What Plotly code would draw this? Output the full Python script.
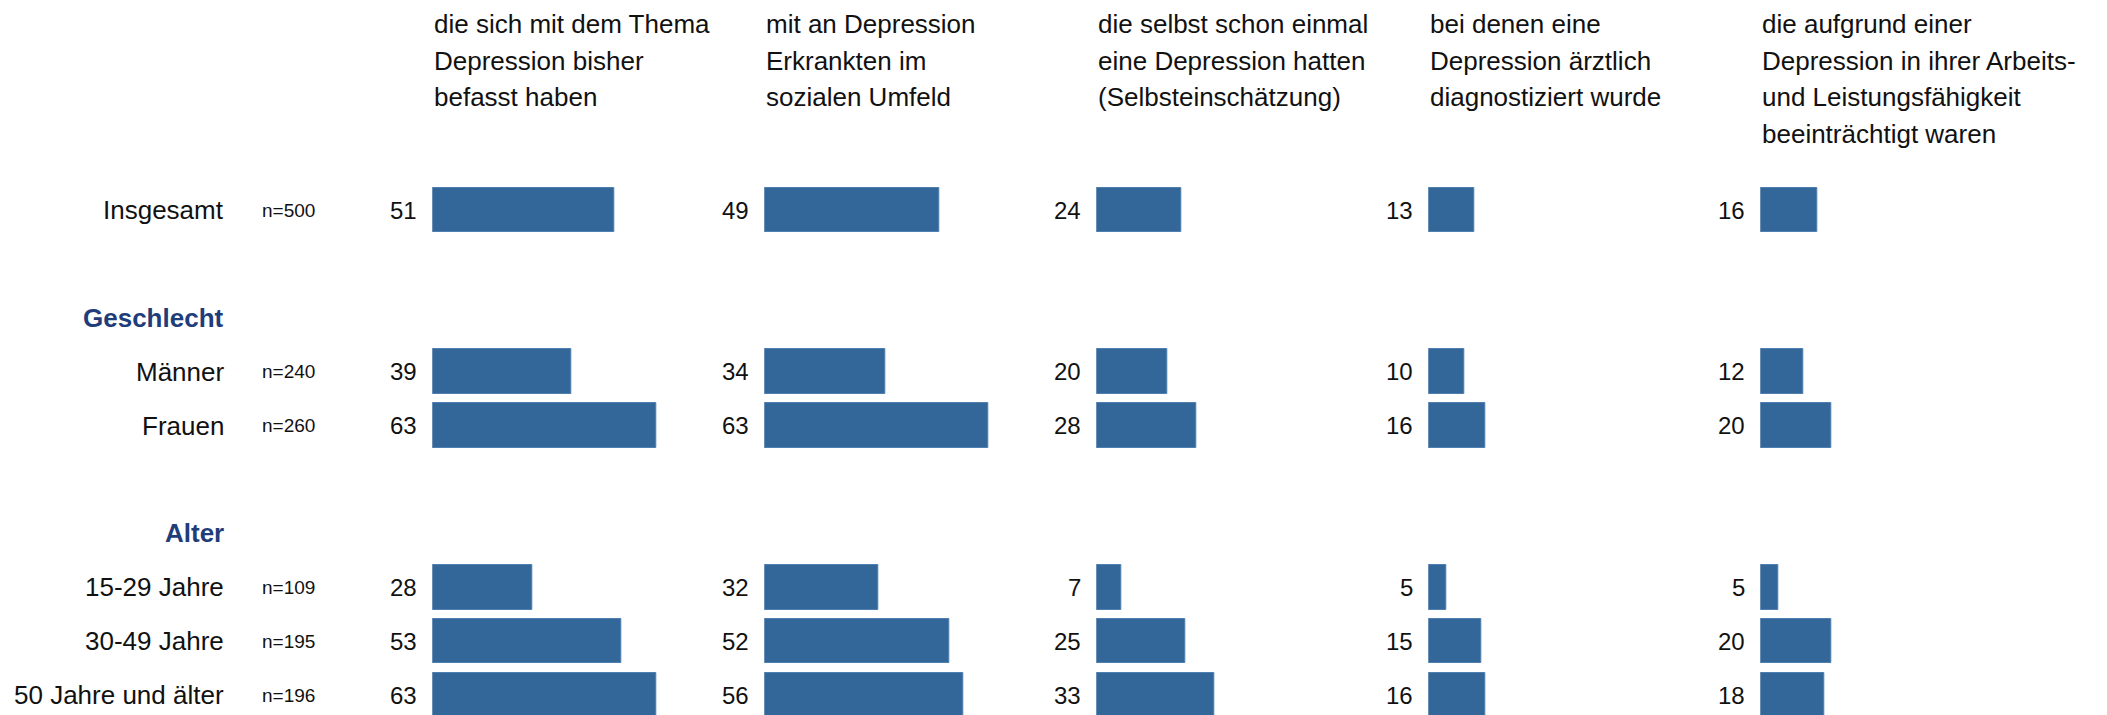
import plotly.graph_objects as go

# ---------------- data ----------------
categories = ["Insgesamt", "Männer", "Frauen", "15-29 Jahre", "30-49 Jahre", "50 Jahre und älter"]
sample_sizes = ["n=500", "n=240", "n=260", "n=109", "n=195", "n=196"]
group_of = ["", "Geschlecht", "Geschlecht", "Alter", "Alter", "Alter"]

col_befasst = [51, 39, 63, 28, 53, 63]
col_umfeld = [49, 34, 63, 32, 52, 56]
col_selbst = [24, 20, 28, 7, 25, 33]
col_diagnose = [13, 10, 16, 5, 15, 16]
col_arbeit = [16, 12, 20, 5, 20, 18]

headers = [
    ["die sich mit dem Thema", "Depression bisher", "befasst haben"],
    ["mit an Depression", "Erkrankten im", "sozialen Umfeld"],
    ["die selbst schon einmal", "eine Depression hatten", "(Selbsteinschätzung)"],
    ["bei denen eine", "Depression ärztlich", "diagnostiziert wurde"],
    ["die aufgrund einer", "Depression in ihrer Arbeits-", "und Leistungsfähigkeit", "beeinträchtigt waren"],
]
columns = [col_befasst, col_umfeld, col_selbst, col_diagnose, col_arbeit]

# ---------------- layout geometry ----------------
PAGE_OFF = 8  # default body margin of the html page
W, H = 2107 - PAGE_OFF, 715 - PAGE_OFF
BAR_COLOR = "#336699"
GROUP_COLOR = "#1F3D7A"
FONT = "Arial, Liberation Sans, sans-serif"

# row positions: a blank row before each new group, then the group header row
row_pos = []
group_rows = []
pos = 0
prev_group = None
for g in group_of:
    if g != prev_group and g != "":
        pos += 1  # blank spacer
        group_rows.append((g, pos))
        pos += 1
    row_pos.append(pos)
    pos += 1
    prev_group = g

row_px = 53.9
y0_px = 210.0 - PAGE_OFF
y_top = -y0_px / row_px
y_bot = (H - y0_px) / row_px

px_per_unit = 3.562
col_left0 = 432.3 - PAGE_OFF
col_step = 332.0
col_width = 320.0

fig = go.Figure()
annotations = []

for k, vals in enumerate(columns):
    axname = "x" if k == 0 else f"x{k+1}"
    left = col_left0 + col_step * k
    fig.add_trace(go.Bar(
        x=vals, y=row_pos, orientation="h",
        xaxis=axname, yaxis="y",
        marker=dict(color=BAR_COLOR, line=dict(color="#4f7fae", width=1)),
        width=0.824, hoverinfo="skip", showlegend=False,
    ))
    lay_key = "xaxis" if k == 0 else f"xaxis{k+1}"
    fig.layout[lay_key] = dict(
        domain=[left / W, (left + col_width) / W],
        range=[0, col_width / px_per_unit],
        anchor="y", visible=False, fixedrange=True,
    )
    for v, yp in zip(vals, row_pos):
        annotations.append(dict(
            x=0, y=yp, xref=axname, yref="y", text=str(v), showarrow=False,
            xanchor="right", yanchor="middle", xshift=-13,
            font=dict(family=FONT, size=24, color="#111111"),
        ))
    # header lines
    for i, line in enumerate(headers[k]):
        center_px = 24.5 + 36.4 * i - PAGE_OFF
        annotations.append(dict(
            x=left / W, y=1 - center_px / H, xref="paper", yref="paper",
            text=line, showarrow=False, xanchor="left", yanchor="middle",
            font=dict(family=FONT, size=26, color="#111111"),
        ))

label_right = (226 - PAGE_OFF) / W
n_left = (260 - PAGE_OFF) / W

# row labels and sample sizes
for cat, n, yp in zip(categories, sample_sizes, row_pos):
    annotations.append(dict(
        x=label_right, y=yp, xref="paper", yref="y", text=cat, showarrow=False,
        xanchor="right", yanchor="middle",
        font=dict(family=FONT, size=26, color="#111111"),
    ))
    annotations.append(dict(
        x=n_left, y=yp, xref="paper", yref="y", text=n, showarrow=False,
        xanchor="left", yanchor="middle",
        font=dict(family=FONT, size=19, color="#111111"),
    ))
for g, yp in group_rows:
    annotations.append(dict(
        x=label_right, y=yp, xref="paper", yref="y", text=f"<b>{g}</b>", showarrow=False,
        xanchor="right", yanchor="middle",
        font=dict(family=FONT, size=26, color=GROUP_COLOR),
    ))

fig.update_layout(
    width=W, height=H,
    margin=dict(l=0, r=0, t=0, b=0),
    paper_bgcolor="white", plot_bgcolor="white",
    yaxis=dict(range=[y_bot, y_top], domain=[0, 1], visible=False, fixedrange=True),
    annotations=annotations,
    bargap=0,
)

fig.write_html("out.html", config={"displayModeBar": False})
